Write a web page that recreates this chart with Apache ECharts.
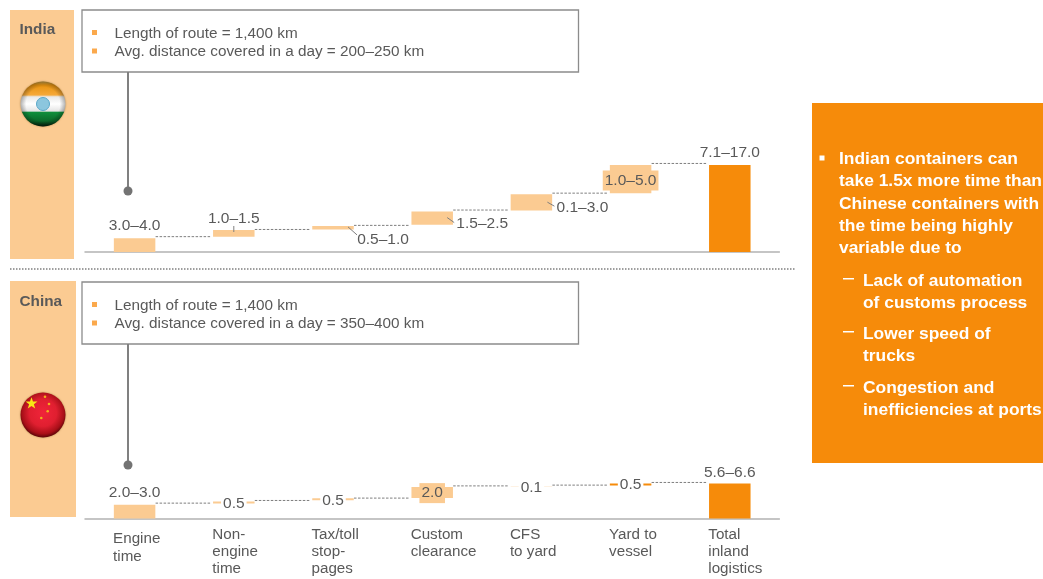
<!DOCTYPE html>
<html><head><meta charset="utf-8">
<script src="https://cdn.jsdelivr.net/npm/echarts@6/dist/echarts.min.js"></script>
<style>html,body{margin:0;padding:0;background:#fff}#c{width:1043px;height:579px}</style>
</head><body><div id="c"></div>
<script>
// ---------- data ----------
const categories = ['Engine\ntime','Non-\nengine\ntime','Tax/toll\nstop-\npages','Custom\nclearance','CFS\nto yard','Yard to\nvessel','Total\ninland\nlogistics'];
const indiaLabels = ['3.0–4.0','1.0–1.5','0.5–1.0','1.5–2.5','0.1–3.0','1.0–5.0','7.1–17.0'];
const indiaLow  = [0, 3.0, 4.4, 5.3, 8.1, 11.5, 0];
const indiaHigh = [2.7, 4.3, 5.1, 7.9, 11.3, 17, 17];
const indiaLinks = [3.0, 4.4, 5.2, 8.2, 11.5, 17.3];
const chinaLabels = ['2.0–3.0','0.5','0.5','2.0','0.1','0.5','5.6–6.6'];
const chinaLow  = [0, 2.85, 3.45, 3.85, 6.1, 6.25, 0];
const chinaHigh = [2.6, 3.2, 3.8, 5.92, 6.12, 6.6, 6.6];
const chinaLinks = [2.9, 3.4, 3.85, 6.15, 6.3, 6.8];
const indiaBullets = ['Length of route = 1,400 km','Avg. distance covered in a day = 200–250 km'];
const chinaBullets = ['Length of route = 1,400 km','Avg. distance covered in a day = 350–400 km'];
const takeawayMain = ['Indian containers can','take 1.5x more time than','Chinese containers with','the time being highly','variable due to'];
const takeawaySubs = [['Lack of automation','of customs process'],['Lower speed of','trucks'],['Congestion and','inefficiencies at ports']];

// ---------- layout & style (label offset from bar top/centre, optional leader) ----------
const FONT='"Liberation Sans", Arial, sans-serif', GREY='#595959', LIGHT='#FBCB92', ORANGE='#F68B0A';
const indiaLabelLayout=[
 {dx:0,dy:-12.5},
 {dx:0,dy:-11.5,tick:[0,-4,0,2]},
 {dx:50,dy:13.5,tick:[15,1,24,9]},
 {dx:50,dy:12.5,tick:[15,6,22,11]},
 {dx:51,dy:13.5,tick:[16,8,23,12]},
 {dx:0,dy:15.5,bg:LIGHT,pad:[2,2,2,2]},
 {dx:0,dy:-12.5}];
const chinaLabelLayout=[
 {dx:0,dy:2.5},
 {dx:0,dy:2.5,bg:'#fff',pad:[0,2,0,2]},
 {dx:0,dy:2,bg:'#fff',pad:[0,2,0,2]},
 {dx:0,dy:6,bg:LIGHT,pad:[2,2,2,2]},
 {dx:0,dy:1.5,bg:'#fff',pad:[0,2,0,2]},
 {dx:0,dy:1,bg:'#fff',pad:[0,2,0,2]},
 {dx:0,dy:-11}];
chinaLabelLayout[0].dy=-12;

function barSeries(ax,low,high,barColor){
  return [
   {type:'bar',xAxisIndex:ax,yAxisIndex:ax,stack:'s'+ax,barWidth:41.5,silent:true,itemStyle:{color:'transparent'},data:low},
   {type:'bar',xAxisIndex:ax,yAxisIndex:ax,stack:'s'+ax,barWidth:41.5,silent:true,
    data:high.map((h,i)=>({value:+(h-low[i]).toFixed(3),itemStyle:{color:barColor(i)}}))}
  ];
}
function linkSeries(ax,links){
  return {type:'custom',xAxisIndex:ax,yAxisIndex:ax,silent:true,clip:false,z:3,
    data:links.map((v,i)=>[i,v]),
    renderItem(p,api){
      const a=api.coord([api.value(0),api.value(1)]), b=api.coord([api.value(0)+1,api.value(1)]);
      return {type:'line',shape:{x1:a[0]+21,y1:a[1],x2:b[0]-22.5,y2:b[1]},
        style:{stroke:'#7f7f7f',lineWidth:1,lineDash:[2.5,1.5]}};
    }};
}
function labelSeries(ax,labels,high,layout){
  return {type:'custom',xAxisIndex:ax,yAxisIndex:ax,silent:true,clip:false,z:5,
    data:high.map((v,i)=>[i,v]),
    renderItem(p,api){
      const i=api.value(0), c=api.coord([i,api.value(1)]), l=layout[i], kids=[];
      if(l.tick) kids.push({type:'line',shape:{x1:c[0]+l.tick[0],y1:c[1]+l.tick[1],x2:c[0]+l.tick[2],y2:c[1]+l.tick[3]},style:{stroke:'#7f7f7f',lineWidth:1}});
      kids.push({type:'text',style:{x:c[0]+l.dx,y:c[1]+l.dy,text:labels[i],fill:GREY,font:'15.5px '+FONT,align:'center',verticalAlign:'middle',
        backgroundColor:l.bg||'transparent',padding:l.pad||0}});
      return {type:'group',children:kids};
    }};
}

// ---------- decorations ----------
const g=[];
const T=(x,y,text,o={})=>g.push({type:'text',silent:true,z:o.z||5,style:{x,y,text,fill:o.fill||GREY,font:(o.bold?'bold ':'')+(o.size||15)+'px '+FONT,verticalAlign:'middle',align:'left'}});
const R=(x,y,w,h,fill,z)=>g.push({type:'rect',silent:true,z:z||1,shape:{x,y,width:w,height:h},style:{fill}});
function callout(top,lines,dotY){
  g.push({type:'rect',silent:true,z:2,shape:{x:82,y:top,width:496.5,height:62},style:{fill:'#fff',stroke:'#8c8c8c',lineWidth:1.3}});
  lines.forEach((t,i)=>{const y=top+23.5+i*18.5; R(92,y-3.5,5,5,'#FBA94C',3); T(114.5,y,t,{size:15.3});});
  g.push({type:'line',silent:true,z:2,shape:{x1:128,y1:top+62,x2:128,y2:dotY},style:{stroke:'#808080',lineWidth:2}});
  g.push({type:'circle',silent:true,z:2,shape:{cx:128,cy:dotY,r:4.5},style:{fill:'#737373'}});
}
R(10,10,64,249,LIGHT); R(10,281,66,236,LIGHT);
T(19.5,29.5,'India',{bold:true,size:15.3}); T(19.5,301.5,'China',{bold:true,size:15.3});
callout(10,indiaBullets,191); callout(282,chinaBullets,465);
g.push({type:'line',silent:true,shape:{x1:10,y1:269,x2:795,y2:269},style:{stroke:'#7f7f7f',lineWidth:1.5,lineDash:[1.5,1.5]}});
// India flag
const lin=(stops)=>({type:'linear',x:0,y:0,x2:0,y2:1,colorStops:stops.map(s=>({offset:s[0],color:s[1]}))});
g.push({type:'circle',silent:true,z:3,shape:{cx:43,cy:104,r:22.5},style:{fill:lin([[0,'#c9a24a'],[0.08,'#e8930f'],[0.3,'#f6a93a'],[0.34,'#e9e9e9'],[0.5,'#ffffff'],[0.66,'#e4e4e4'],[0.68,'#0f8f3c'],[0.88,'#0a6a2a'],[1,'#04200d']]),shadowBlur:2,shadowColor:'rgba(120,80,20,.6)'}});
g.push({type:'circle',silent:true,z:4,shape:{cx:43,cy:104,r:22.5},style:{fill:{type:'radial',x:.5,y:.5,r:.5,colorStops:[{offset:0,color:'rgba(0,0,0,0)'},{offset:.75,color:'rgba(0,0,0,0)'},{offset:1,color:'rgba(0,0,0,.3)'}]}}});
g.push({type:'circle',silent:true,z:4,shape:{cx:43,cy:104,r:6.5},style:{fill:'#8cc6de',stroke:'#5aa8c9',lineWidth:1}});
// China flag
g.push({type:'circle',silent:true,z:3,shape:{cx:43,cy:415,r:22.5},style:{fill:{type:'radial',x:.5,y:.45,r:.55,colorStops:[{offset:0,color:'#f0243a'},{offset:.55,color:'#e01f30'},{offset:.85,color:'#a80f18'},{offset:1,color:'#5a0408'}]},shadowBlur:2,shadowColor:'rgba(120,80,20,.6)'}});
const star=[];for(let k=0;k<10;k++){const r=k%2?2.5:6.3,a=-Math.PI/2+k*Math.PI/5;star.push([31.5+r*Math.cos(a),403.5+r*Math.sin(a)]);}
g.push({type:'polygon',silent:true,z:4,shape:{points:star},style:{fill:'#f7e816'}});
[[45,396.7],[49,404],[47.7,411.3],[41.3,418]].forEach(p=>g.push({type:'circle',silent:true,z:4,shape:{cx:p[0],cy:p[1],r:1.3},style:{fill:'#f2b01c'}}));
// Takeaway box
R(812,103,231,360,ORANGE);
R(819.5,155.5,5,5,'#fff',3);
takeawayMain.forEach((t,i)=>T(839,[159,181.5,204,226,248.5][i],t,{fill:'#fff',bold:true,size:17.4}));
const subY=[[281.5,303.5],[334.5,356.5],[388.5,410.5]];
takeawaySubs.forEach((s,i)=>{
  R(843,subY[i][0]-3.5,11,1.5,'#fff',3);
  s.forEach((t,j)=>T(863,subY[i][j],t,{fill:'#fff',bold:true,size:17.4}));
});

const xBase={type:'category',data:categories,axisTick:{show:false},axisLine:{lineStyle:{color:'#b3b3b3',width:1.5}}};
const labelRich={a:{align:'left',width:43,lineHeight:17,fontSize:15.2,color:GREY,fontFamily:FONT},
  e1:{align:'left',width:43,lineHeight:25,fontSize:15.2,color:GREY,fontFamily:FONT},
  e2:{align:'left',width:43,lineHeight:11,fontSize:15.2,color:GREY,fontFamily:FONT}};
const chart=echarts.init(document.getElementById('c'),null,{renderer:'canvas'});
chart.setOption({
  animation:false,backgroundColor:'#fff',graphic:g,
  grid:[{left:85,width:694.4,top:149.64,height:102.36},{left:85,width:694.4,top:465.5,height:53}],
  xAxis:[
    Object.assign({},xBase,{gridIndex:0,axisLabel:{show:false}}),
    Object.assign({},xBase,{gridIndex:1,axisLabel:{interval:0,margin:8,rich:labelRich,
      formatter:(v)=>{const l=v.split('\n');return v.startsWith('Engine')?`{e1|${l[0]}}\n{e2|${l[1]}}`:l.map(x=>`{a|${x}}`).join('\n');}}})
  ],
  yAxis:[
    {gridIndex:0,type:'value',min:0,max:20,show:false},
    {gridIndex:1,type:'value',min:0,max:10,show:false}
  ],
  series:[
    ...barSeries(0,indiaLow,indiaHigh,i=>i===6?ORANGE:LIGHT),
    linkSeries(0,indiaLinks),
    labelSeries(0,indiaLabels,indiaHigh,indiaLabelLayout),
    ...barSeries(1,chinaLow,chinaHigh,i=>i>=5?ORANGE:LIGHT),
    linkSeries(1,chinaLinks),
    labelSeries(1,chinaLabels,chinaHigh,chinaLabelLayout)
  ]
});
</script></body></html>
